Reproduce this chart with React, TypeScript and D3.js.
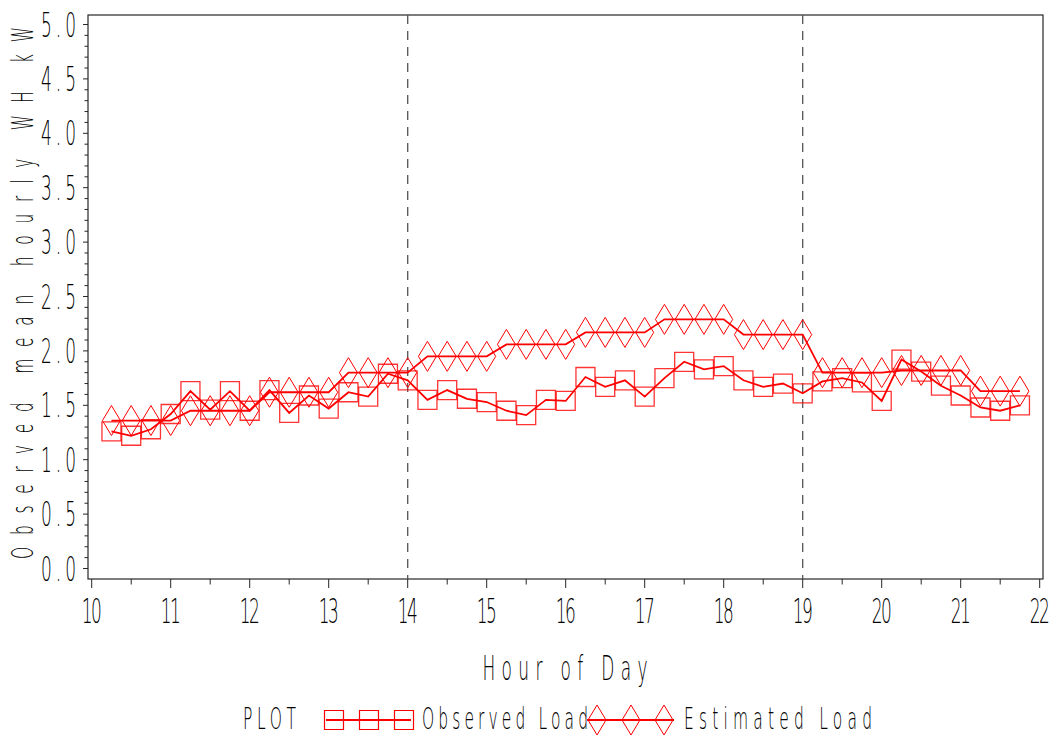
import * as d3 from "d3";

// quarter-hour readings, 10:15 .. 21:45
const hours = [
  10.25, 10.5, 10.75, 11, 11.25, 11.5, 11.75, 12, 12.25, 12.5, 12.75, 13,
  13.25, 13.5, 13.75, 14, 14.25, 14.5, 14.75, 15, 15.25, 15.5, 15.75, 16,
  16.25, 16.5, 16.75, 17, 17.25, 17.5, 17.75, 18, 18.25, 18.5, 18.75, 19,
  19.25, 19.5, 19.75, 20, 20.25, 20.5, 20.75, 21, 21.25, 21.5, 21.75,
];

const observed = [
  1.26, 1.22, 1.28, 1.42, 1.63, 1.46, 1.63, 1.45, 1.64, 1.43, 1.59, 1.47,
  1.62, 1.58, 1.79, 1.73, 1.55, 1.64, 1.56, 1.53, 1.45, 1.41, 1.55, 1.54,
  1.76, 1.67, 1.73, 1.58, 1.75, 1.9, 1.83, 1.86, 1.73, 1.67, 1.7, 1.61,
  1.72, 1.75, 1.71, 1.54, 1.92, 1.81, 1.68, 1.59, 1.48, 1.45, 1.5,
];

const estimated = [
  1.36, 1.36, 1.36, 1.36, 1.45, 1.45, 1.45, 1.45, 1.62, 1.62, 1.62, 1.62,
  1.8, 1.8, 1.8, 1.8, 1.95, 1.95, 1.95, 1.95, 2.06, 2.06, 2.06, 2.06,
  2.17, 2.17, 2.17, 2.17, 2.29, 2.29, 2.29, 2.29, 2.15, 2.15, 2.15, 2.15,
  1.8, 1.8, 1.8, 1.8, 1.82, 1.82, 1.82, 1.82, 1.63, 1.63, 1.63,
];

const xTicks = [10, 11, 12, 13, 14, 15, 16, 17, 18, 19, 20, 21, 22];
const yTicks = [0, 0.5, 1, 1.5, 2, 2.5, 3, 3.5, 4, 4.5, 5];
const refLines = [14, 19];

const RED = "#ff0000";
const INK = "#262626";
const FONT = "'DejaVu Sans', sans-serif";

// narrow SAS-like lettering: squeeze glyphs, stretch spacing to given width
function Label({x, y, text, size, width, anchor = "middle", rotate = 0, sx = 0.5}: any) {
  return (
    <text
      transform={`translate(${x},${y}) rotate(${rotate}) scale(${sx},1)`}
      fontSize={size}
      fontFamily={FONT}
      fontWeight={200}
      textAnchor={anchor}
      textLength={width / sx}
      lengthAdjust="spacing"
      fill="#000"
    >
      {text}
    </text>
  );
}

const square = (cx: number, cy: number) =>
  `M${cx - 9.5},${cy - 9.5}h19v19h-19Z`;
const diamond = (cx: number, cy: number) =>
  `M${cx},${cy - 15}L${cx + 9},${cy}L${cx},${cy + 15}L${cx - 9},${cy}Z`;

export default function App() {
  const frame = {left: 88, right: 1043, top: 15, bottom: 579};

  const x = d3.scaleLinear().domain([10, 22]).range([91.7, 1039.7]);
  const y = d3.scaleLinear().domain([0, 5]).range([568.5, 24.5]);

  const line = d3
    .line<number>()
    .x((_, i) => x(hours[i]))
    .y((d) => y(d));

  const yMinor = d3.range(0, 5.0001, 0.1);
  const xMinor = d3.range(10.5, 22, 1);

  return (
    <svg
      width={1056}
      height={736}
      style={{position: "absolute", left: 0, top: 0, background: "#fff"}}
    >
      {/* frame */}
      <rect
        x={frame.left}
        y={frame.top}
        width={frame.right - frame.left}
        height={frame.bottom - frame.top}
        fill="none"
        stroke={INK}
        strokeWidth={1.2}
      />

      {/* y axis ticks */}
      {yMinor.map((v, i) => (
        <line
          key={"ym" + i}
          x1={frame.left}
          x2={frame.left - (i % 5 === 0 ? 5 : 3.5)}
          y1={y(v)}
          y2={y(v)}
          stroke={INK}
          strokeWidth={1}
        />
      ))}
      {yTicks.map((v) => (
        <Label
          key={"yl" + v}
          x={76}
          y={y(v) + 12}
          text={v.toFixed(1)}
          size={34}
          width={35}
          anchor="end"
        />
      ))}

      {/* x axis ticks */}
      {xTicks.map((h) => (
        <line
          key={"xt" + h}
          x1={x(h)}
          x2={x(h)}
          y1={frame.bottom}
          y2={frame.bottom + 9}
          stroke={INK}
          strokeWidth={1}
        />
      ))}
      {xMinor.map((h) => (
        <line
          key={"xm" + h}
          x1={x(h)}
          x2={x(h)}
          y1={frame.bottom}
          y2={frame.bottom + 5.5}
          stroke={INK}
          strokeWidth={1}
        />
      ))}
      {xTicks.map((h) => (
        <Label key={"xl" + h} x={x(h)} y={623} text={String(h)} size={34} width={20} />
      ))}

      {/* axis titles */}
      <Label x={565} y={680} text="Hour of Day" size={34} width={165} />
      <Label
        x={33}
        y={293}
        text="Observed mean hourly WH kW"
        size={31}
        width={532}
        rotate={-90}
      />

      {/* reference lines */}
      {refLines.map((h) => (
        <line
          key={"ref" + h}
          x1={x(h)}
          x2={x(h)}
          y1={frame.top}
          y2={frame.bottom}
          stroke="#555"
          strokeWidth={1.3}
          strokeDasharray="9,7"
        />
      ))}

      {/* series */}
      <path d={line(estimated) || ""} fill="none" stroke={RED} strokeWidth={1.8} />
      <path d={line(observed) || ""} fill="none" stroke={RED} strokeWidth={1.8} />
      {observed.map((v, i) => (
        <path
          key={"sq" + i}
          d={square(x(hours[i]), y(v))}
          fill="none"
          stroke={RED}
          strokeOpacity={0.8}
          strokeWidth={1.3}
        />
      ))}
      {estimated.map((v, i) => (
        <path key={"dm" + i} d={diamond(x(hours[i]), y(v))} fill="none" stroke={RED} strokeWidth={1} />
      ))}

      {/* legend */}
      <Label x={243} y={729} text="PLOT" size={31} width={53} anchor="start" />
      <line x1={326} x2={411} y1={720} y2={720} stroke={RED} strokeWidth={1.8} />
      {[334, 369, 404].map((cx) => (
        <path key={"lsq" + cx} d={square(cx, 720)} fill="none" stroke={RED} strokeWidth={1.2} />
      ))}
      <Label x={422} y={729} text="Observed Load" size={31} width={166} anchor="start" />
      <line x1={587} x2={674} y1={720} y2={720} stroke={RED} strokeWidth={1.8} />
      {[597, 631, 664].map((cx) => (
        <path key={"ldm" + cx} d={diamond(cx, 720)} fill="none" stroke={RED} strokeWidth={1} />
      ))}
      <Label x={684} y={729} text="Estimated Load" size={31} width={188} anchor="start" />
    </svg>
  );
}
